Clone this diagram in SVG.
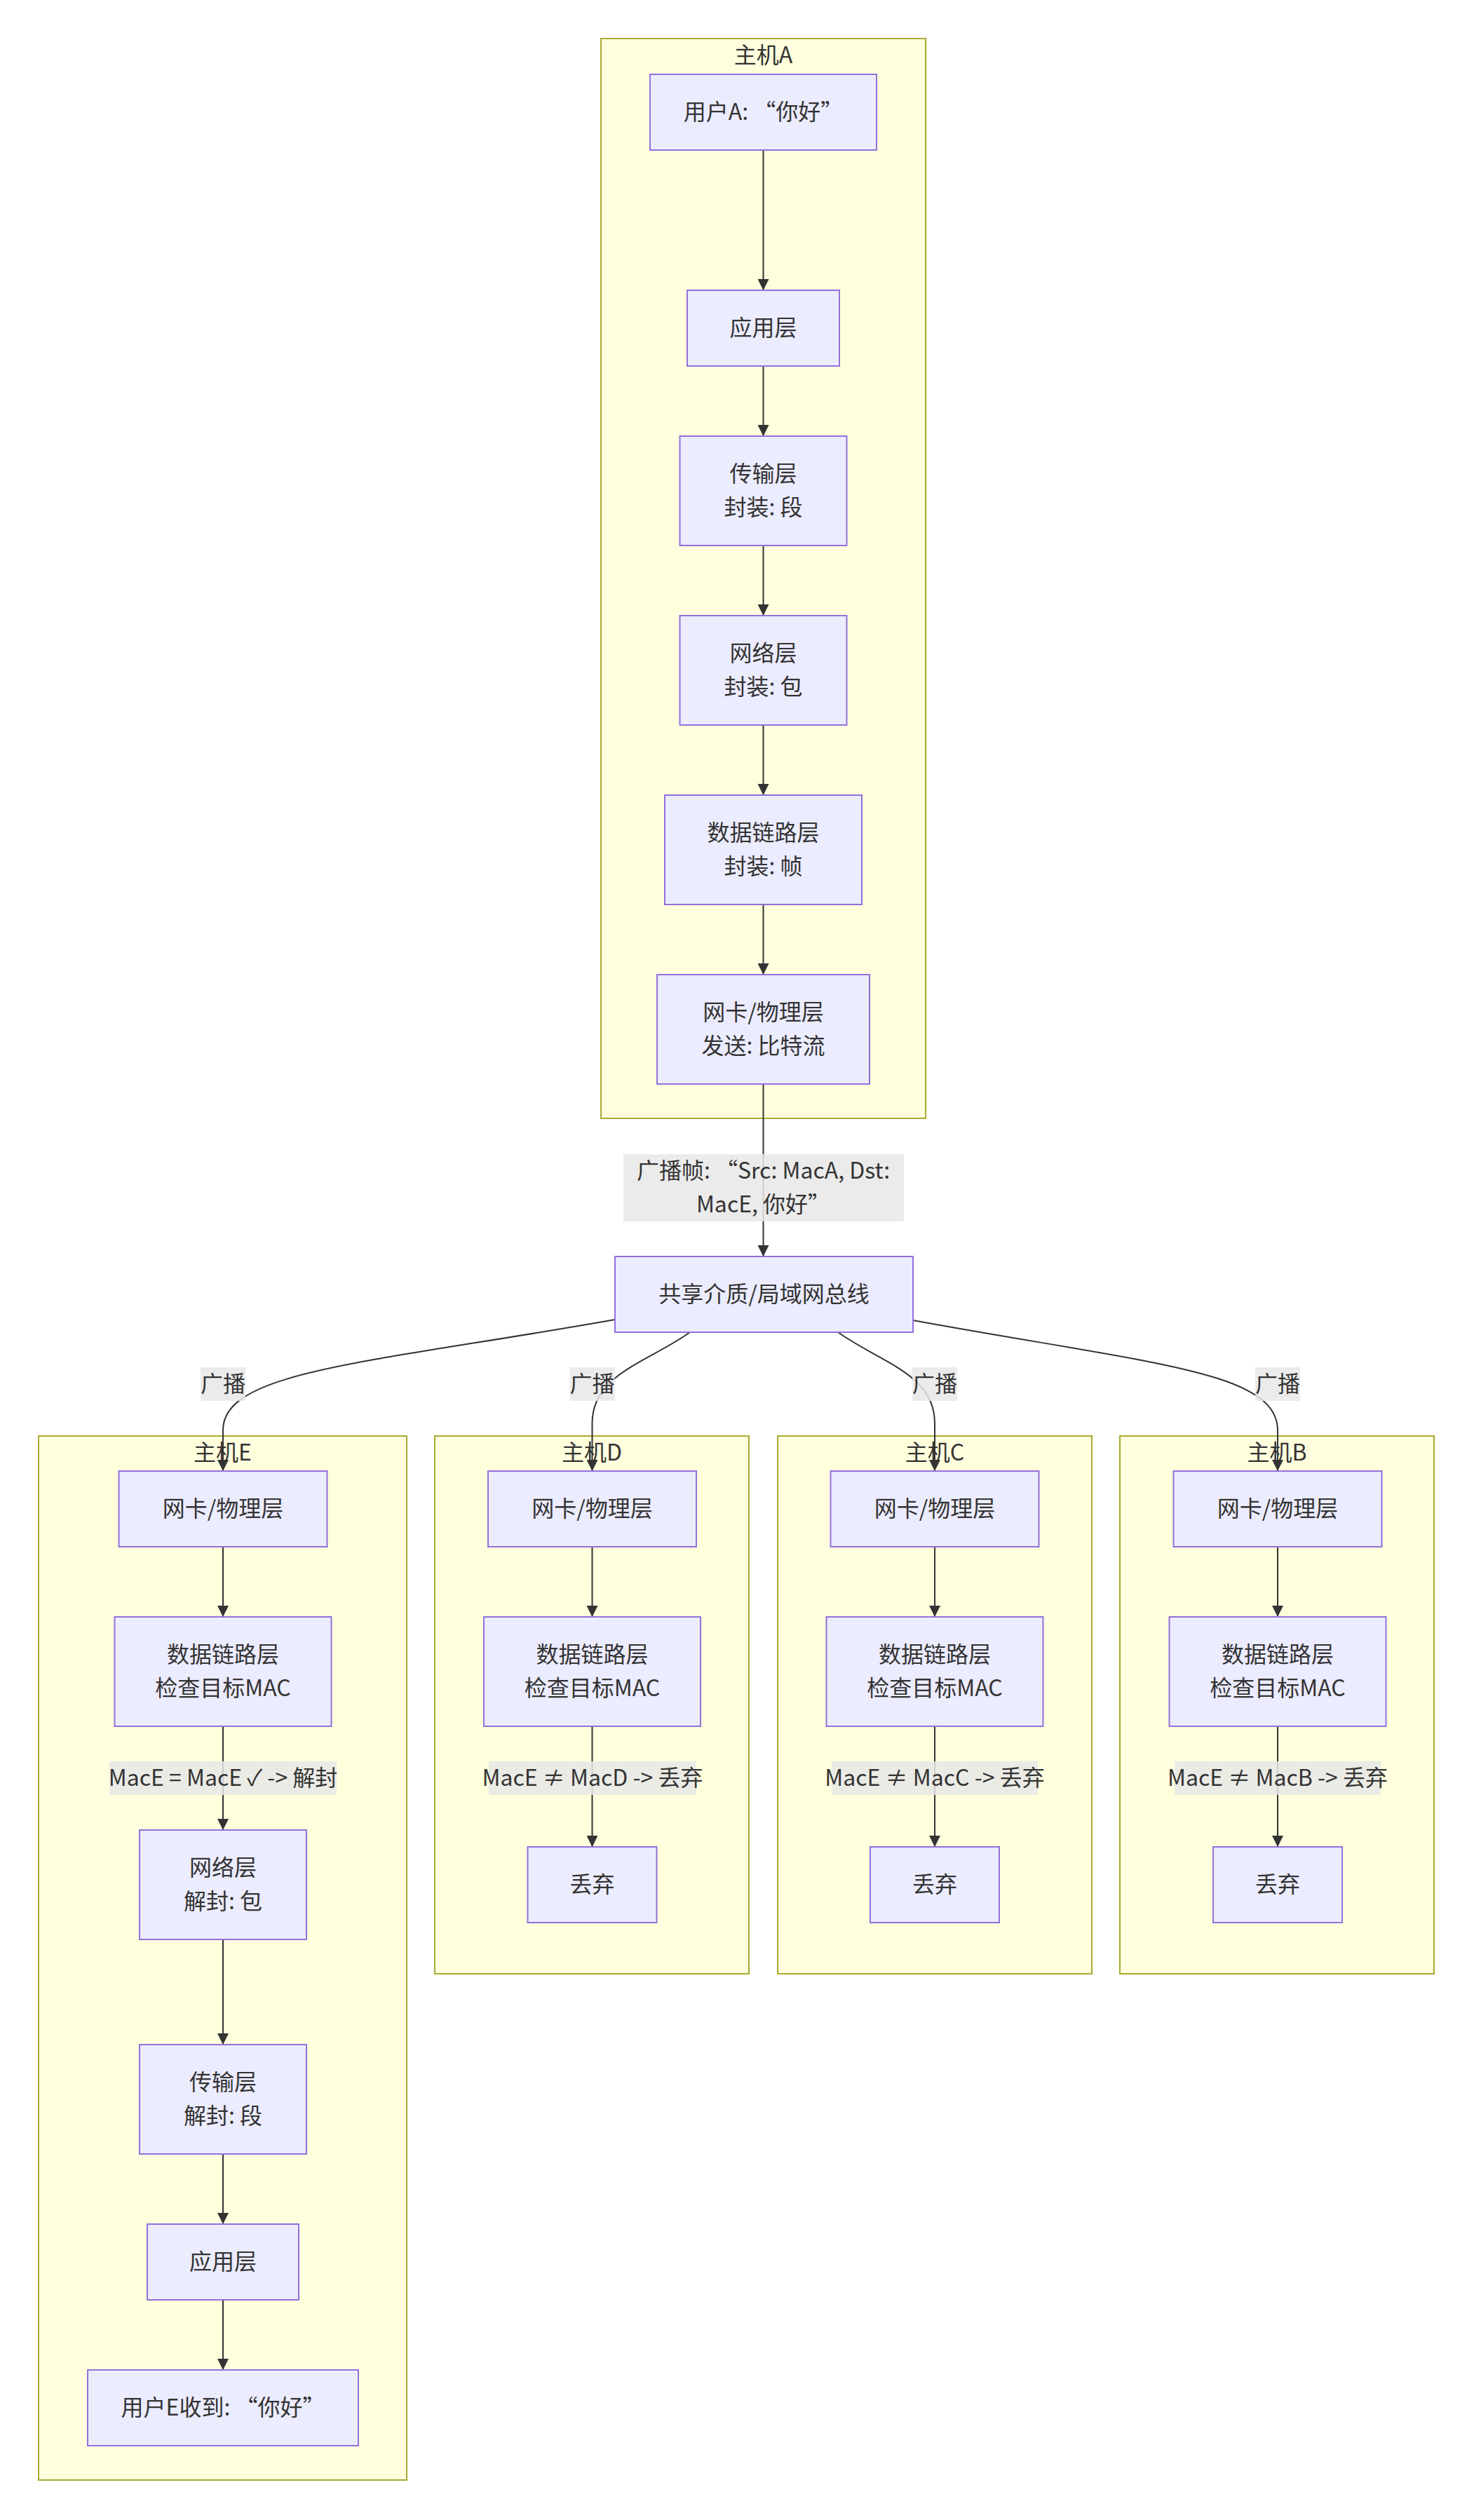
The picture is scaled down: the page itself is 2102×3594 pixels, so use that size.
<svg xmlns="http://www.w3.org/2000/svg" width="2102" height="3594" viewBox="0 0 2102 3594">
<style>
text{font-family:"Noto Sans CJK SC","Noto Sans",sans-serif;font-size:32px;fill:#333333;text-anchor:middle;dominant-baseline:central}
.cluster rect{fill:#ffffde;stroke:#aaaa33;stroke-width:2}
.node rect{fill:#ececff;stroke:#9370db;stroke-width:2}
.edges path{fill:none;stroke:#333333;stroke-width:2;marker-end:url(#arrow)}
.elabel rect{fill:#e8e8e8;fill-opacity:0.85}
</style>
<defs>
<marker id="arrow" viewBox="0 0 10 10" refX="10" refY="5" markerWidth="8" markerHeight="8" orient="auto" markerUnits="strokeWidth">
<path d="M0,0 L10,5 L0,10 z" fill="#333333"/>
</marker>
</defs>
<rect width="2102" height="3594" fill="#ffffff"/>

<g id="clusters">
<g id="hostA" class="cluster"><rect x="857" y="55" width="463" height="1540"/><text x="1088.5" y="76">主机A</text></g>
<g id="hostE" class="cluster"><rect x="55" y="2048" width="525" height="1489"/><text x="317.5" y="2069">主机E</text></g>
<g id="hostD" class="cluster"><rect x="620" y="2048" width="448" height="767"/><text x="844" y="2069">主机D</text></g>
<g id="hostC" class="cluster"><rect x="1109" y="2048" width="448" height="767"/><text x="1333" y="2069">主机C</text></g>
<g id="hostB" class="cluster"><rect x="1597" y="2048" width="448" height="767"/><text x="1821" y="2069">主机B</text></g>
</g>

<g id="connectors" class="edges">
<path d="M1088.5,214 L1088.5,414"/>
<path d="M1088.5,522 L1088.5,622"/>
<path d="M1088.5,778 L1088.5,878"/>
<path d="M1088.5,1034 L1088.5,1134"/>
<path d="M1088.5,1290 L1088.5,1390"/>
<path d="M1088.5,1546 L1088.5,1792"/>
<path d="M877,1882 C520,1945 318,1955 318,2040 L318,2098"/>
<path d="M984,1900 C920,1945 844.5,1960 844.5,2030 L844.5,2098"/>
<path d="M1195,1900 C1259,1945 1333,1960 1333,2030 L1333,2098"/>
<path d="M1302,1883 C1640,1945 1822,1955 1822,2040 L1822,2098"/>
<path d="M318,2206 L318,2306"/>
<path d="M318,2462 L318,2610"/>
<path d="M318,2766 L318,2916"/>
<path d="M318,3072 L318,3172"/>
<path d="M318,3280 L318,3380"/>
<path d="M844.5,2206 L844.5,2306"/>
<path d="M844.5,2462 L844.5,2634"/>
<path d="M1333,2206 L1333,2306"/>
<path d="M1333,2462 L1333,2634"/>
<path d="M1822,2206 L1822,2306"/>
<path d="M1822,2462 L1822,2634"/>
</g>

<g id="edge-labels" class="elabel">
<g><rect x="889" y="1646" width="400" height="96"/><text x="1088.5" y="1667">广播帧: “Src: MacA, Dst:</text><text x="1088.5" y="1715">MacE, 你好”</text></g>
<g><rect x="286" y="1950" width="64" height="48"/><text x="318" y="1971">广播</text></g>
<g><rect x="812.5" y="1950" width="64" height="48"/><text x="844.5" y="1971">广播</text></g>
<g><rect x="1301" y="1950" width="64" height="48"/><text x="1333" y="1971">广播</text></g>
<g><rect x="1790" y="1950" width="64" height="48"/><text x="1822" y="1971">广播</text></g>
<g><rect x="156" y="2512" width="324" height="48"/><text x="318" y="2533">MacE = MacE ✓ -&gt; 解封</text></g>
<g><rect x="697" y="2512" width="296" height="48"/><text x="845" y="2533">MacE ≠ MacD -&gt; 丢弃</text></g>
<g><rect x="1186" y="2512" width="294" height="48"/><text x="1333" y="2533">MacE ≠ MacC -&gt; 丢弃</text></g>
<g><rect x="1675" y="2512" width="294" height="48"/><text x="1822" y="2533">MacE ≠ MacB -&gt; 丢弃</text></g>
</g>

<g id="nA1" class="node"><rect x="927" y="106" width="323" height="108"/><text x="1088.5" y="157">用户A: “你好”</text></g>
<g id="nA2" class="node"><rect x="980" y="414" width="217" height="108"/><text x="1088.5" y="465">应用层</text></g>
<g id="nA3" class="node"><rect x="969.5" y="622" width="238" height="156"/><text x="1088.5" y="673">传输层</text><text x="1088.5" y="721">封装: 段</text></g>
<g id="nA4" class="node"><rect x="969.5" y="878" width="238" height="156"/><text x="1088.5" y="929">网络层</text><text x="1088.5" y="977">封装: 包</text></g>
<g id="nA5" class="node"><rect x="948" y="1134" width="281" height="156"/><text x="1088.5" y="1185">数据链路层</text><text x="1088.5" y="1233">封装: 帧</text></g>
<g id="nA6" class="node"><rect x="937" y="1390" width="303" height="156"/><text x="1088.5" y="1441">网卡/物理层</text><text x="1088.5" y="1489">发送: 比特流</text></g>
<g id="bus" class="node"><rect x="877" y="1792" width="425" height="108"/><text x="1089.5" y="1843">共享介质/局域网总线</text></g>

<g id="nE1" class="node"><rect x="169.5" y="2098" width="297" height="108"/><text x="318" y="2149">网卡/物理层</text></g>
<g id="nE2" class="node"><rect x="163.5" y="2306" width="309" height="156"/><text x="318" y="2357">数据链路层</text><text x="318" y="2405">检查目标MAC</text></g>
<g id="nE3" class="node"><rect x="199" y="2610" width="238" height="156"/><text x="318" y="2661">网络层</text><text x="318" y="2709">解封: 包</text></g>
<g id="nE4" class="node"><rect x="199" y="2916" width="238" height="156"/><text x="318" y="2967">传输层</text><text x="318" y="3015">解封: 段</text></g>
<g id="nE5" class="node"><rect x="210" y="3172" width="216" height="108"/><text x="318" y="3223">应用层</text></g>
<g id="nE6" class="node"><rect x="125" y="3380" width="386" height="108"/><text x="318" y="3431">用户E收到: “你好”</text></g>

<g id="nD1" class="node"><rect x="696" y="2098" width="297" height="108"/><text x="844.5" y="2149">网卡/物理层</text></g>
<g id="nD2" class="node"><rect x="690" y="2306" width="309" height="156"/><text x="844.5" y="2357">数据链路层</text><text x="844.5" y="2405">检查目标MAC</text></g>
<g id="nD3" class="node"><rect x="752.5" y="2634" width="184" height="108"/><text x="844.5" y="2685">丢弃</text></g>

<g id="nC1" class="node"><rect x="1184.5" y="2098" width="297" height="108"/><text x="1333" y="2149">网卡/物理层</text></g>
<g id="nC2" class="node"><rect x="1178.5" y="2306" width="309" height="156"/><text x="1333" y="2357">数据链路层</text><text x="1333" y="2405">检查目标MAC</text></g>
<g id="nC3" class="node"><rect x="1241" y="2634" width="184" height="108"/><text x="1333" y="2685">丢弃</text></g>

<g id="nB1" class="node"><rect x="1673.5" y="2098" width="297" height="108"/><text x="1822" y="2149">网卡/物理层</text></g>
<g id="nB2" class="node"><rect x="1667.5" y="2306" width="309" height="156"/><text x="1822" y="2357">数据链路层</text><text x="1822" y="2405">检查目标MAC</text></g>
<g id="nB3" class="node"><rect x="1730" y="2634" width="184" height="108"/><text x="1822" y="2685">丢弃</text></g>
</svg>
